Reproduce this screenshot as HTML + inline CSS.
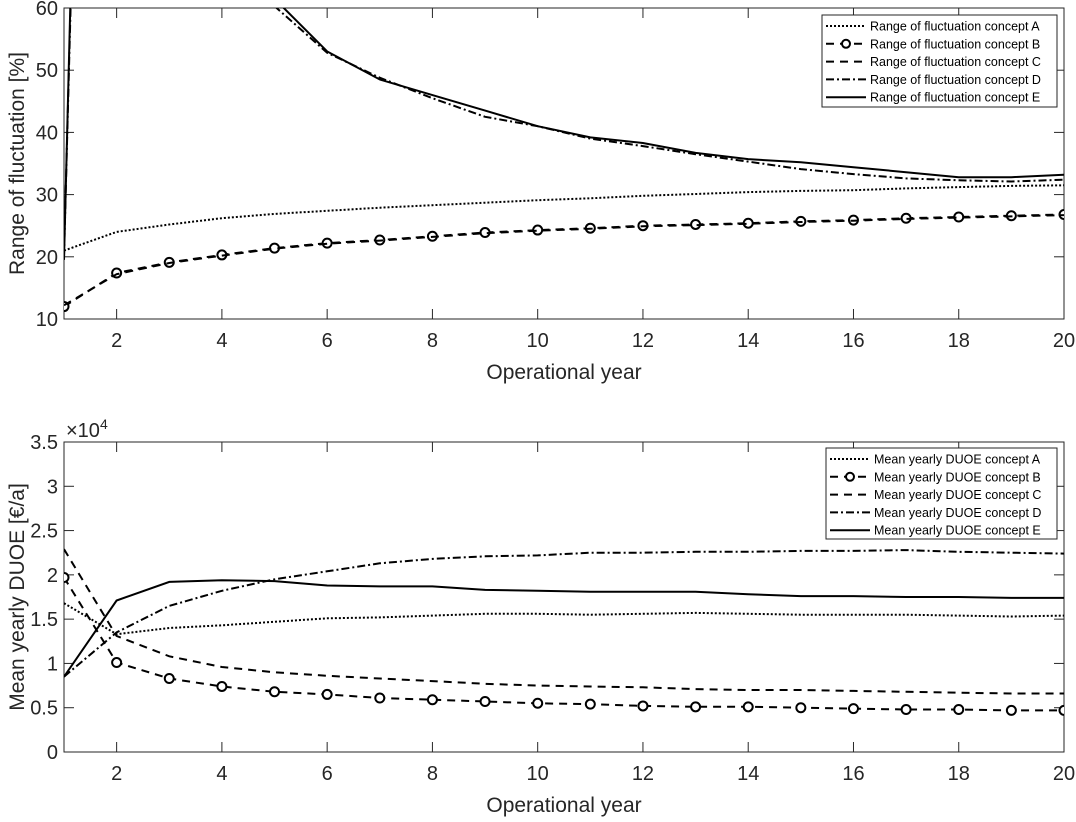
<!DOCTYPE html>
<html><head><meta charset="utf-8"><style>
body{margin:0;background:#fff;}
svg{font-family:"Liberation Sans",Arial,sans-serif;}
</style></head><body>
<svg id="fig" width="1076" height="817" viewBox="0 0 1076 817" xmlns="http://www.w3.org/2000/svg">
<defs>
<clipPath id="c1"><rect x="64" y="8" width="1000" height="311"/></clipPath>
<clipPath id="c2"><rect x="64" y="442" width="1000" height="310"/></clipPath>
</defs>
<g id="topg"></g>
<g id="botg"></g>
</svg>
<script>
const years=[1,2,3,4,5,6,7,8,9,10,11,12,13,14,15,16,17,18,19,20];
const xTicks=[2,4,6,8,10,12,14,16,18,20];
const topYTicks=[10,20,30,40,50,60];
const botYTicks=[0,0.5,1,1.5,2,2.5,3,3.5];
const botYTickLabels=["0","0.5","1","1.5","2","2.5","3","3.5"];
const fluctA=[21,24,25.2,26.2,26.9,27.4,27.9,28.3,28.7,29.1,29.4,29.8,30.1,30.4,30.6,30.7,31,31.2,31.4,31.5];
const fluctB=[12,17.4,19.1,20.3,21.4,22.2,22.7,23.3,23.9,24.3,24.6,25,25.2,25.4,25.7,25.9,26.2,26.4,26.6,26.8];
const fluctC=[12.2,17.2,19,20.2,21.3,22.1,22.6,23.2,23.8,24.2,24.5,24.9,25.1,25.3,25.6,25.8,26.1,26.3,26.5,26.7];
const fluctD=[20,340,140,85,60.3,52.8,48.8,45.5,42.5,41,39,37.8,36.5,35.3,34.1,33.3,32.6,32.3,32.1,32.4];
const fluctE=[19.5,360,150,90,61.5,53,48.5,46,43.5,41,39.2,38.3,36.7,35.7,35.2,34.4,33.6,32.8,32.8,33.2];
const duoeA=[1.68,1.33,1.40,1.43,1.47,1.51,1.52,1.54,1.56,1.56,1.55,1.56,1.57,1.56,1.55,1.55,1.55,1.54,1.53,1.54];
const duoeB=[1.97,1.01,0.83,0.74,0.68,0.65,0.61,0.59,0.57,0.55,0.54,0.52,0.51,0.51,0.50,0.49,0.48,0.48,0.47,0.47];
const duoeC=[2.29,1.31,1.08,0.96,0.90,0.86,0.83,0.80,0.77,0.75,0.74,0.73,0.71,0.70,0.70,0.69,0.68,0.67,0.66,0.66];
const duoeD=[0.85,1.35,1.65,1.82,1.95,2.04,2.13,2.18,2.21,2.22,2.25,2.25,2.26,2.26,2.27,2.27,2.28,2.26,2.25,2.24];
const duoeE=[0.85,1.71,1.92,1.94,1.93,1.88,1.87,1.87,1.83,1.82,1.81,1.81,1.81,1.78,1.76,1.76,1.75,1.75,1.74,1.74];

const NS="http://www.w3.org/2000/svg";
function mk(tag,attrs,parent){const e=document.createElementNS(NS,tag);for(const k in attrs)e.setAttribute(k,attrs[k]);parent.appendChild(e);return e;}
const X0=64,X1=1064;
function xs(v){return X0+(v-1)/19*(X1-X0);}
const styles={A:{dash:"2,2",w:2},B:{dash:"8,6",w:2},C:{dash:"8,6",w:2},D:{dash:"8,3,2,3",w:2},E:{dash:"",w:2}};

function drawPanel(g,clip,yTop,yBot,ymin,ymax,yticks,ylabels,series,names,ylab,legendBox,prefix){
  const ys=v=>yBot-(v-ymin)/(ymax-ymin)*(yBot-yTop);
  const frame=mk('rect',{x:X0,y:yTop,width:X1-X0,height:yBot-yTop,fill:'#fff',stroke:'#262626','stroke-width':1},g);
  
  
  xTicks.forEach(t=>{
    const x=xs(t);
    const l1=mk('line',{x1:x,x2:x,y1:yBot,y2:yBot-10,stroke:'#262626'},g);
    
    
    const l2=mk('line',{x1:x,x2:x,y1:yTop,y2:yTop+10,stroke:'#262626'},g);
    
    
    const tx=mk('text',{x:x,y:yBot+28,'text-anchor':'middle','font-size':20,fill:'#262626'},g);
    tx.textContent=t;
    
    
  });
  yticks.forEach((t,i)=>{
    const y=ys(t);
    const l1=mk('line',{x1:X0,x2:X0+10,y1:y,y2:y,stroke:'#262626'},g);
    
    
    const l2=mk('line',{x1:X1,x2:X1-10,y1:y,y2:y,stroke:'#262626'},g);
    
    
    const tx=mk('text',{x:X0-6,y:y+7,'text-anchor':'end','font-size':20,fill:'#262626'},g);
    tx.textContent=ylabels[i];
    
    
  });
  const xl=mk('text',{x:(X0+X1)/2,y:yBot+60,'text-anchor':'middle','font-size':21,fill:'#262626'},g);
  xl.textContent='Operational year';
  
  
  const ylt=mk('text',{x:0,y:0,'text-anchor':'middle','font-size':21,fill:'#262626',transform:`translate(24,${(yTop+yBot)/2}) rotate(-90)`},g);
  ylt.textContent=ylab;
  
  
  const cg=mk('g',{'clip-path':`url(#${clip})`},g);
  const keys=['A','B','C','D','E'];
  keys.forEach((k,i)=>{
    const d=series[i].map((v,j)=>(j?'L':'M')+xs(years[j]).toFixed(1)+','+ys(v).toFixed(1)).join(' ');
    const p=mk('path',{d:d,fill:'none',stroke:'#000','stroke-width':styles[k].w,'stroke-dasharray':styles[k].dash},cg);
    
    
    if(k==='B'){
      series[i].forEach((v,j)=>{
        const c=mk('circle',{cx:xs(years[j]),cy:ys(v),r:4.5,fill:'#fff',stroke:'#000','stroke-width':2},cg);
        
        
      });
    }
  });
  const [lx,ly,lw,lh]=legendBox;
  const lg=mk('g',{},g);
  
  
  mk('rect',{x:lx,y:ly,width:lw,height:lh,fill:'#fff',stroke:'#262626'},lg);
  keys.forEach((k,i)=>{
    const y=ly+11+i*17.8;
    const ln=mk('line',{x1:lx+4,x2:lx+44,y1:y,y2:y,stroke:'#000','stroke-width':2,'stroke-dasharray':styles[k].dash},lg);
    
    
    if(k==='B'){const c=mk('circle',{cx:lx+24,cy:y,r:4,fill:'#fff',stroke:'#000','stroke-width':2},lg);
      
      }
    const t=mk('text',{x:lx+48,y:y+4.5,'font-size':12.5,fill:'#000'},lg);
    t.textContent=names[i];
    
    
  });
}
const topPanel=document.getElementById('topg'),botPanel=document.getElementById('botg');
drawPanel(topPanel,'c1',8,319,10,60,topYTicks,topYTicks.map(String),[fluctA,fluctB,fluctC,fluctD,fluctE],
 ['Range of fluctuation concept A','Range of fluctuation concept B','Range of fluctuation concept C','Range of fluctuation concept D','Range of fluctuation concept E'],
 'Range of fluctuation [%]',[822,15,235,92],'fluctuation');
drawPanel(botPanel,'c2',442,752,0,3.5,botYTicks,botYTickLabels,[duoeA,duoeB,duoeC,duoeD,duoeE],
 ['Mean yearly DUOE concept A','Mean yearly DUOE concept B','Mean yearly DUOE concept C','Mean yearly DUOE concept D','Mean yearly DUOE concept E'],
 'Mean yearly DUOE [€/a]',[826,448,231,91],'duoe');
const ex=mk('text',{x:66,y:437,'font-size':20,fill:'#262626'},botPanel);
ex.innerHTML='×10<tspan dy="-8" font-size="14">4</tspan>';


</script>
</body></html>
